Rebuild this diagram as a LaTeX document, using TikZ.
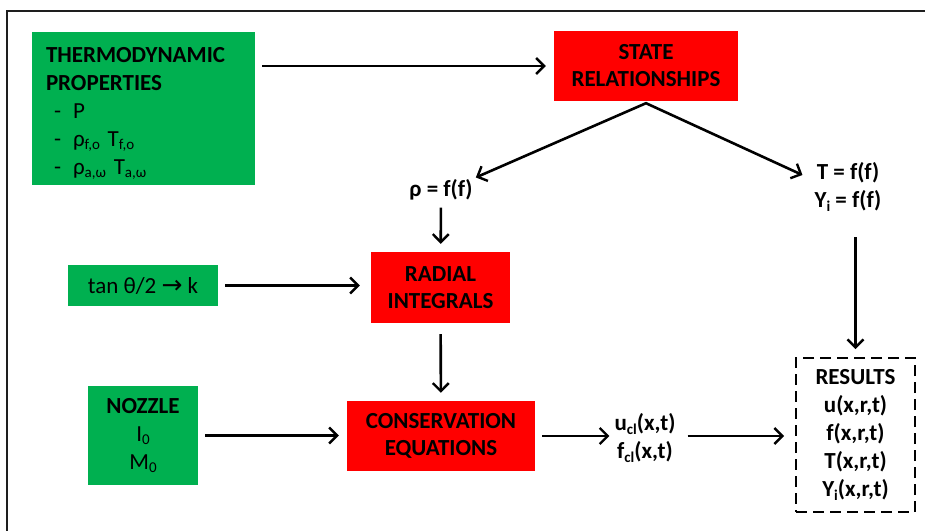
\documentclass[tikz,border=0pt]{standalone}
\usepackage{fontspec}
\setmainfont{Carlito}
\newfontfamily\arrowfont{DejaVu Sans}
\usepackage{tikz}
\usetikzlibrary{positioning,arrows.meta}
\definecolor{ink}{HTML}{000000}
\definecolor{leaf}{HTML}{00B050}
\definecolor{alarm}{HTML}{FF0000}
\definecolor{rim}{HTML}{1E1E1E}
\newcommand{\dn}[1]{\raisebox{-0.3ex}{\fontsize{15}{15}\selectfont #1}}
\newcommand{\toarrow}{{\arrowfont\fontsize{25}{25}\selectfont →}}
\tikzset{
  inbox/.style={fill=leaf, draw=none, inner sep=0pt, align=center,
                font=\fontsize{23}{28}\selectfont},
  calcbox/.style={fill=alarm, draw=none, inner sep=0pt, align=center,
                font=\fontsize{23}{27}\selectfont\bfseries},
  eqn/.style={inner sep=0pt, align=center, font=\fontsize{23}{28}\selectfont\bfseries},
  outbox/.style={draw=ink, line width=1.8pt, dash pattern=on 11pt off 6pt,
                inner sep=0pt, align=center, font=\fontsize{23}{28}\selectfont\bfseries},
  ar/.style={-{Straight Barb[length=8pt,width=16pt,line width=2.4pt]}, line width=2.6pt,
             color=ink, shorten <=7pt, shorten >=8pt},
  vee/.style={{Straight Barb[length=8pt,width=16pt,line width=2.4pt]}-{Straight Barb[length=8pt,width=16pt,line width=2.4pt]},
             line width=2.6pt, color=ink, line join=miter},
}

\begin{document}
\begin{tikzpicture}[x=1pt,y=-1pt]
\useasboundingbox (0,0) rectangle (925,530);
\draw[rim, line width=2.5pt] (7,535) -- (7,11) -- (930,11);

% --- inputs ---
\node[inbox, minimum width=223pt, minimum height=153pt, text width=195pt, align=left]
  (thermo) at (143.5,108.5)
  {\rule{0pt}{25pt}\textbf{THERMODYNAMIC}\\ \textbf{PROPERTIES}\\
   \hspace*{8pt}-\hspace{12pt}P\\
   \hspace*{8pt}-\hspace{12pt}ρ\dn{f,o} T\dn{f,o}\\
   \hspace*{8pt}-\hspace{12pt}ρ\dn{a,ω} T\dn{a,ω}};
\node[inbox, minimum width=150pt, minimum height=41pt] (tan) at (143,285.5) {tan θ/2 \toarrow\ k};
\node[inbox, minimum width=110pt, minimum height=99pt] (nozzle) at (143,435.5)
  {\textbf{NOZZLE}\\I\dn{0}\\M\dn{0}};

% --- calculations ---
\node[calcbox, minimum width=184pt, minimum height=70pt] (state) at (646,66) {STATE\\RELATIONSHIPS};
\node[calcbox, minimum width=139pt, minimum height=71pt] (radial) at (440.5,287.5) {RADIAL\\INTEGRALS};
\node[calcbox, minimum width=188pt, minimum height=70pt] (cons) at (441,436) {CONSERVATION\\EQUATIONS};

% --- intermediate values ---
\node[eqn] (rho) at (441,190) {ρ = f(f)};
\node[eqn] (tf)  at (848,187) {T = f(f)\\Y\dn{i} = f(f)};
\node[eqn] (ucl) at (645,438) {u\dn{cl}(x,t)\\f\dn{cl}(x,t)};

% --- output ---
\node[outbox, minimum width=119pt, minimum height=154pt] (results) at (855.5,435)
  {RESULTS\\u(x,r,t)\\f(x,r,t)\\T(x,r,t)\\Y\dn{i}(x,r,t)};

% --- connectors ---
\draw[ar] (thermo.east |- state.west) -- (state.west);
\draw[vee] ([shift={(3pt,2pt)}]rho.north east) -- ([yshift=-2pt]state.south)
  -- ([shift={(-12pt,12pt)}]tf.west);
\draw[ar] (rho) -- (radial);
\draw[ar, shorten <=26pt] (results.north |- tf.south) -- (results.north);
\draw[ar, shorten >=11pt] (tan.east) -- (tan.east -| radial.west);
\draw[ar, shorten <=11pt] (radial) -- (cons);
\draw[ar] (nozzle.east) -- (nozzle.east -| cons.west);
\draw[ar, shorten >=5pt] (cons.east) -- (cons.east -| ucl.west);
\draw[ar, shorten <=12pt, shorten >=11pt] (ucl.east |- cons.east) -- (results.west |- cons.east);
\end{tikzpicture}
\end{document}
